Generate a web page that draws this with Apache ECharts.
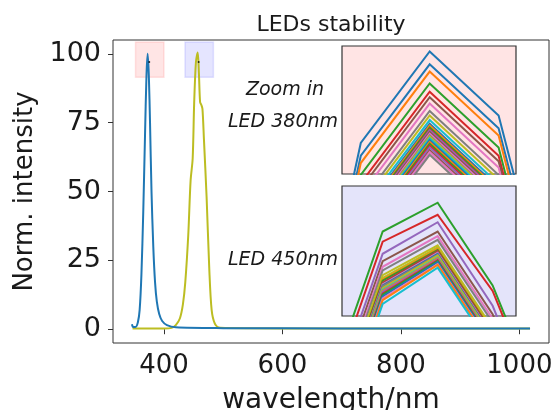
<!DOCTYPE html>
<html>
<head>
<meta charset="utf-8">
<script src="https://cdn.jsdelivr.net/npm/echarts@6/dist/echarts.min.js"></script>
<style>html,body{margin:0;padding:0;background:#fff}#c{width:557px;height:410px}</style>
</head>
<body>
<div id="c"></div>
<script>
// ---------- data ----------
const xTicks = [400, 600, 800, 1000];
const yTicks = [0, 25, 50, 75, 100];

// LED 380nm spectrum (wavelength nm, normalized intensity)
const led380Wl  = [346, 348, 352, 356, 359, 362, 365, 368, 370.5, 372.5, 374.5, 376.5, 379, 382, 385, 388, 392, 397, 405, 420, 500, 700, 900, 1018];
const led380Int = [1.8, 0.8, 0.8, 2.5, 7, 20, 42, 70, 92, 100, 92, 75, 50, 30, 17, 10, 5.5, 3, 1.5, 0.7, 0.4, 0.3, 0.3, 0.3];

// LED 450nm spectrum
const led450Wl  = [347, 400, 413, 420, 427, 432, 436, 441, 445, 448.5, 451, 454, 457, 459, 461, 463, 465, 467.5, 472, 476.5, 480.5, 486, 495, 600, 1018];
const led450Int = [0.3, 0.3, 0.5, 1.5, 4, 9, 17, 34, 54, 62, 82, 97, 100.5, 93, 82.5, 81.5, 80, 69, 48, 22, 7, 2, 0.5, 0.3, 0.3];

// peak markers
const peakDots = [[375.2, 97], [458.6, 97]];

// zoom regions drawn on main plot [x0, x1, y0, y1]
const box380 = [352, 400, 91.5, 104.3];
const box450 = [435.5, 483.5, 91.5, 104.3];

// inset 380nm: wavelengths and repeated spectra near peak
const inset380Wl = [369, 371, 373, 375, 377];
const inset380 = [
  [58.5, 93.4, 103.4, 96.4, 67.2],
  [57.2, 92.0, 102.0, 95.0, 65.8],
  [56.3, 91.2, 101.2, 94.2, 65.0],
  [55.0, 89.9, 99.9, 92.9, 63.7],
  [54.1, 89.0, 99.0, 92.0, 62.8],
  [53.5, 88.4, 98.4, 91.4, 62.2],
  [52.8, 87.7, 97.7, 90.7, 61.5],
  [52.0, 86.9, 96.9, 89.9, 60.7],
  [51.4, 86.4, 96.4, 89.4, 60.2],
  [51.0, 85.9, 95.9, 88.9, 59.7],
  [50.6, 85.5, 95.5, 88.5, 59.3],
  [50.4, 85.3, 95.3, 88.3, 59.1],
  [50.2, 85.1, 95.1, 88.1, 58.9],
  [50.0, 84.9, 94.9, 87.9, 58.7],
  [49.9, 84.8, 94.8, 87.8, 58.6],
  [49.7, 84.6, 94.6, 87.6, 58.4],
  [49.5, 84.4, 94.4, 87.4, 58.2],
  [49.3, 84.2, 94.2, 87.2, 58.0],
  [49.1, 84.1, 94.1, 87.1, 57.9],
  [48.9, 83.9, 93.9, 86.9, 57.7],
  [48.8, 83.7, 93.7, 86.7, 57.5],
  [48.6, 83.5, 93.5, 86.5, 57.3],
  [48.4, 83.3, 93.3, 86.3, 57.1],
  [48.2, 83.1, 93.1, 86.1, 56.9],
  [47.9, 82.9, 92.9, 85.9, 56.7],
  [47.7, 82.6, 92.6, 85.6, 56.4],
  [47.5, 82.4, 92.4, 85.4, 56.2],
  [47.2, 82.1, 92.1, 85.1, 55.9]
];
const inset380Colors = ['blue','blue','orange','green','red','brown','pink','gray','olive','cyan','blue','orange','green','red','purple','brown','pink','gray','olive','cyan','blue','orange','green','red','purple','brown','pink','gray'];

// inset 450nm
const inset450Wl = [453, 455, 457, 459, 461];
const inset450 = [
  [82.1, 99.1, 102.2, 93.3, 78.7],
  [81.0, 98.0, 100.9, 92.7, 78.1],
  [79.7, 96.7, 100.1, 91.1, 76.5],
  [78.9, 95.9, 99.1, 90.2, 75.6],
  [78.2, 95.3, 98.6, 89.7, 75.1],
  [77.9, 94.9, 98.2, 89.3, 74.7],
  [77.3, 94.4, 97.6, 88.7, 74.1],
  [77.1, 94.1, 97.4, 88.5, 73.9],
  [76.9, 93.9, 97.2, 88.3, 73.7],
  [76.8, 93.8, 97.1, 88.2, 73.6],
  [76.6, 93.6, 97.0, 88.1, 73.5],
  [76.5, 93.5, 96.9, 88.0, 73.4],
  [76.4, 93.4, 96.8, 87.9, 73.3],
  [76.3, 93.3, 96.7, 87.8, 73.2],
  [76.2, 93.2, 96.6, 87.7, 73.1],
  [76.0, 93.0, 96.5, 87.6, 73.0],
  [75.8, 92.8, 96.3, 87.4, 72.8],
  [75.7, 92.7, 96.2, 87.3, 72.7],
  [75.6, 92.6, 96.1, 87.2, 72.6],
  [75.4, 92.4, 96.0, 87.1, 72.5],
  [75.3, 92.3, 95.9, 87.0, 72.4],
  [75.1, 92.1, 95.8, 86.9, 72.3],
  [74.9, 91.9, 95.6, 86.7, 72.1],
  [74.7, 91.7, 95.5, 86.6, 72.0],
  [74.3, 91.3, 95.2, 86.3, 71.7]
];
const inset450Colors = ['green','red','purple','brown','pink','gray','olive','olive','orange','green','red','brown','pink','blue','gray','olive','cyan','orange','purple','red','green','blue','pink','orange','cyan'];

const texts = {title: 'LEDs stability', xName: 'wavelength/nm', yName: 'Norm. intensity', zoom: 'Zoom in', led380: 'LED 380nm', led450: 'LED 450nm'};

// ---------- styles ----------
const tab = {blue:'#1f77b4', orange:'#ff7f0e', green:'#2ca02c', red:'#d62728', purple:'#9467bd', brown:'#8c564b', pink:'#e377c2', gray:'#7f7f7f', olive:'#bcbd22', cyan:'#17becf'};
const FONT = 'DejaVu Sans';
const ink = '#1a1a1a';

const zip = (a, b) => a.map((v, i) => [v, b[i]]);

const series = [
  {type:'line', xAxisIndex:0, yAxisIndex:0, data: zip(led450Wl, led450Int), showSymbol:false, smooth:0.3,
   lineStyle:{color:tab.olive, width:2}, z:2,
   markArea:{silent:true, data:[
     [{coord:[box380[0], box380[2]], itemStyle:{color:'rgba(255,0,0,0.1)', borderColor:'rgba(255,0,0,0.1)', borderWidth:1.5}}, {coord:[box380[1], box380[3]]}],
     [{coord:[box450[0], box450[2]], itemStyle:{color:'rgba(0,0,255,0.1)', borderColor:'rgba(0,0,255,0.1)', borderWidth:1.5}}, {coord:[box450[1], box450[3]]}]
   ]}},
  {type:'line', xAxisIndex:0, yAxisIndex:0, data: zip(led380Wl, led380Int), showSymbol:false, smooth:0.3,
   lineStyle:{color:tab.blue, width:2}, z:3},
  {type:'scatter', xAxisIndex:0, yAxisIndex:0, data: peakDots, symbolSize:2, itemStyle:{color:'#000'}, z:4}
];
inset380.forEach((vals, i) => series.push({type:'line', xAxisIndex:1, yAxisIndex:1, data: zip(inset380Wl, vals),
  showSymbol:false, clip:true, lineStyle:{color: tab[inset380Colors[i]], width:2, join:'miter'}, z:5}));
inset450.forEach((vals, i) => series.push({type:'line', xAxisIndex:2, yAxisIndex:2, data: zip(inset450Wl, vals),
  showSymbol:false, clip:true, lineStyle:{color: tab[inset450Colors[i]], width:2, join:'miter'}, z:5}));

const hiddenAxis = (idx, min, max) => ({type:'value', gridIndex:idx, min, max, show:false, splitLine:{show:false}});

const option = {
  animation:false,
  backgroundColor:'#fff',
  textStyle:{fontFamily:FONT},
  grid:[
    {left:113, top:40, right:8, bottom:67, show:true, borderColor:'#333', borderWidth:1, backgroundColor:'transparent', outerBoundsMode:'none', containLabel:false},
    {left:342, top:46, width:174, height:128, show:true, borderColor:'#333', borderWidth:1.2, backgroundColor:'#ffe4e4', z:4, outerBoundsMode:'none'},
    {left:342, top:186, width:174, height:130, show:true, borderColor:'#333', borderWidth:1.2, backgroundColor:'#e4e4fa', z:4, outerBoundsMode:'none'}
  ],
  xAxis:[
    {type:'value', gridIndex:0, min:314, max:1050,
     axisLine:{show:false}, splitLine:{show:false},
     axisTick:{show:true, length:5, lineStyle:{color:'#333'}, customValues:xTicks},
     axisLabel:{fontSize:26, color:ink, fontFamily:FONT, margin:10, customValues:xTicks, formatter: v => String(v)},
     name:texts.xName, nameLocation:'middle', nameGap:44,
     nameTextStyle:{fontSize:28, color:ink, fontFamily:FONT}},
    hiddenAxis(1, 370.455, 375.505),
    hiddenAxis(2, 453.52, 459.85)
  ],
  yAxis:[
    {type:'value', gridIndex:0, min:-5, max:105,
     axisLine:{show:false}, splitLine:{show:false},
     axisTick:{show:true, length:5, lineStyle:{color:'#333'}, customValues:yTicks},
     axisLabel:{fontSize:27, color:ink, fontFamily:FONT, margin:12, customValues:yTicks, formatter: v => String(v)},
     name:texts.yName, nameLocation:'middle', nameGap:74, nameRotate:90,
     nameTextStyle:{fontSize:26, color:ink, fontFamily:FONT}},
    hiddenAxis(1, 90, 104),
    hiddenAxis(2, 90, 104)
  ],
  series,
  graphic:[
    {type:'text', x:331, y:25, style:{text:texts.title, font:'22px "DejaVu Sans"', fill:ink, textAlign:'center', textVerticalAlign:'middle'}},
    {type:'text', x:285, y:90, style:{text:texts.zoom, font:'italic 19px "DejaVu Sans"', fill:ink, textAlign:'center', textVerticalAlign:'middle'}},
    {type:'text', x:283, y:122, style:{text:texts.led380, font:'italic 19px "DejaVu Sans"', fill:ink, textAlign:'center', textVerticalAlign:'middle'}},
    {type:'text', x:283, y:260, style:{text:texts.led450, font:'italic 19px "DejaVu Sans"', fill:ink, textAlign:'center', textVerticalAlign:'middle'}}
  ]
};
const chart = echarts.init(document.getElementById('c'), null, {renderer:'canvas'});
chart.setOption(option);
</script>
</body>
</html>
